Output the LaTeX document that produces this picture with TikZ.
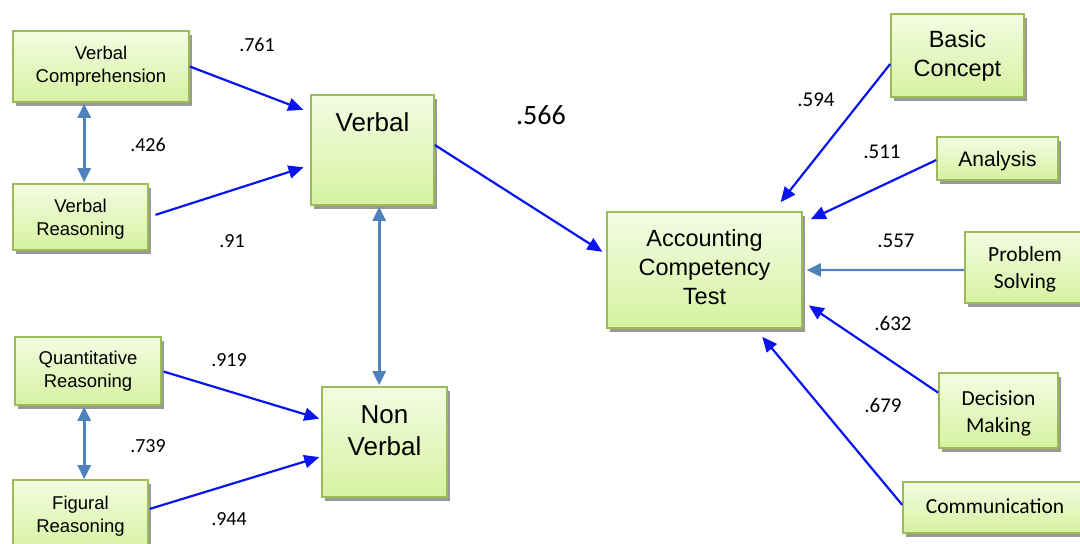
\documentclass[tikz,border=0pt]{standalone}
\usepackage{fontspec}
\setmainfont{Liberation Sans}
\newfontfamily\carfont{Carlito}
\usetikzlibrary{arrows.meta,calc,shadows}
\definecolor{boxtop}{HTML}{F3FCE3}
\definecolor{boxbot}{HTML}{D6F2A0}
\definecolor{boxline}{HTML}{9BBB59}
\definecolor{arrblue}{HTML}{0A14F0}
\definecolor{steel}{HTML}{4F81BD}
\tikzset{
  gbox/.style={draw=boxline, line width=1.6pt, top color=boxtop, bottom color=boxbot,
    drop shadow={shadow xshift=3pt, shadow yshift=-3.5pt, fill=black!40, opacity=1},
    inner sep=0pt, align=center},
  txt/.style={inner sep=0pt, align=center},
  lab/.style={inner sep=0pt, font=\carfont\fontsize{20}{22}\selectfont},
  rlab/.style={inner sep=0pt, font=\carfont\fontsize{21}{23}\selectfont},
  pth/.style={draw=arrblue, line width=2.2pt, -{Triangle[length=15pt,width=13pt]}},
  cor/.style={draw=steel, line width=2.6pt, {Triangle[length=14pt,width=13pt]}-{Triangle[length=14pt,width=13pt]}},
  sgl/.style={draw=steel, line width=2.4pt, -{Triangle[length=14pt,width=13pt]}},
  smfont/.style={font=\fontsize{18.5}{23}\selectfont},
  mdfont/.style={font=\fontsize{23.5}{29}\selectfont},
  bgfont/.style={font=\fontsize{26}{32}\selectfont},
  calfont/.style={font=\carfont\fontsize{21.5}{27}\selectfont}
}
\begin{document}
\begin{tikzpicture}[x=1pt,y=-1pt]
\useasboundingbox (0,0) rectangle (1080,544);
\begin{scope}
\clip (0,0) rectangle (1080,544);
% boxes
\node[gbox, minimum width=176pt, minimum height=71pt, smfont] (VC) at (101,66.5) {Verbal\\Comprehension};
\node[gbox, minimum width=135pt, minimum height=66pt] (VR) at (80.5,217) {};
\node[txt, smfont] (VRt) at (80.5,219) {Verbal\\Reasoning};
\node[gbox, minimum width=123pt, minimum height=110pt] (V) at (372.5,150) {};
\node[txt, bgfont] (Vt) at (372.5,122) {Verbal};
\node[gbox, minimum width=146pt, minimum height=68pt, smfont] (QR) at (88,371) {Quantitative\\Reasoning};
\node[gbox, minimum width=135pt, minimum height=72pt] (FR) at (80.5,516) {};
\node[txt, smfont] (FRt) at (80.5,516) {Figural\\Reasoning};
\node[gbox, minimum width=125pt, minimum height=110pt] (NV) at (384.5,442) {};
\node[txt, bgfont] (NVt) at (384.5,431) {Non\\Verbal};
\node[gbox, minimum width=195pt, minimum height=116pt] (A) at (704.5,270) {};
\node[txt, mdfont] (At) at (704.5,267.5) {Accounting\\Competency\\Test};
\node[gbox, minimum width=133pt, minimum height=83pt, mdfont] (BC) at (957.5,55.5) {Basic\\Concept};
\node[gbox, minimum width=121pt, minimum height=43pt] (AN) at (997.5,158.5) {};
\node[txt, font=\fontsize{21}{26}\selectfont] (ANt) at (997.5,161) {Analysis};
\node[gbox, minimum width=124pt, minimum height=71pt] (PS) at (1027,267.5) {};
\node[txt, calfont] (PSt) at (1025,269.5) {Problem\\Solving};
\node[gbox, minimum width=119pt, minimum height=75pt] (DM) at (998.5,410.5) {};
\node[txt, calfont] (DMt) at (998.5,413) {Decision\\Making};
\node[gbox, minimum width=186pt, minimum height=51pt] (CO) at (996,507.5) {};
\node[txt, calfont] (COt) at (995,506) {Communication};
\end{scope}
% arrows left
\draw[pth, shorten >=7.5pt] (VC.east) -- ($(V.north west)!0.164!(V.south west)$);
\draw[pth, shorten <=7pt, shorten >=7pt] ($(VR.north east)!0.5!(VR.south east)$) -- ($(V.north west)!0.636!(V.south west)$);
\draw[cor] ($(VC.south west)+(72,1)$) -- ($(VR.north west)+(72,-1)$);
\draw[cor] ($(V.south west)+(69,1)$) -- ($(NV.north west)+(58,-1)$);
\draw[cor] ($(QR.south west)+(70,1)$) -- ($(FR.north west)+(72,0)$);
\draw[pth, shorten <=2pt, shorten >=2pt] (QR.east) -- ($(NV.north west)!0.296!(NV.south west)$);
\draw[pth, shorten <=1pt, shorten >=2pt] ($(FR.north east)+(0,30)$) -- ($(NV.north west)!0.63!(NV.south west)$);
\draw[pth, shorten >=4.5pt] ($(V.north east)!0.455!(V.south east)$) -- ($(A.north west)!0.366!(A.south west)$);
% arrows right
\draw[pth, shorten >=11.5pt] ($(BC.north west)!0.6!(BC.south west)$) -- ($(A.north west)!0.851!(A.north east)$);
\draw[pth, shorten >=8.8pt] ($(AN.north west)!0.535!(AN.south west)$) -- ($(A.north east)!0.10!(A.south east)$);
\draw[sgl, shorten >=4pt] ($(PS.north west)!0.535!(PS.south west)$) -- ($(A.north east)!0.5!(A.south east)$);
\draw[pth, shorten >=7.2pt] ($(DM.north west)!0.267!(DM.south west)$) -- ($(A.north east)!0.767!(A.south east)$);
\draw[pth, shorten >=10.4pt] ($(CO.north west)!0.45!(CO.south west)$) -- ($(A.south west)!0.76!(A.south east)$);
% labels
\node[lab] (l1) at (257,45) {.761};
\node[lab] (l2) at (148,145) {.426};
\node[lab] (l3) at (232,241) {.91};
\node[inner sep=0pt, font=\carfont\fontsize{28}{32}\selectfont] (l4) at (541,115) {.566};
\node[lab] (l5) at (229,360) {.919};
\node[lab] (l6) at (148,446) {.739};
\node[lab] (l7) at (229,519) {.944};
\node[rlab] (r1) at (816,100) {.594};
\node[rlab] (r2) at (882,152) {.511};
\node[rlab] (r3) at (896,241) {.557};
\node[rlab] (r4) at (893,323) {.632};
\node[rlab] (r5) at (883,405) {.679};
\end{tikzpicture}
\end{document}
